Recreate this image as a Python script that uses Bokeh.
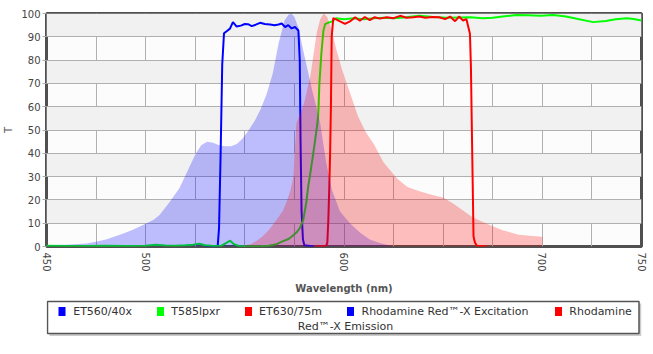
from bokeh.plotting import figure
from bokeh.layouts import column
from bokeh.models import Range1d, FixedTicker, SingleIntervalTicker
from bokeh.core.properties import value
from bokeh.embed import file_html
from bokeh.resources import INLINE

# ---------------- data ----------------
x_ticks = [450, 500, 600, 700, 750]

et560_wl = [530, 536.3, 537, 537.8, 538.6, 539.5, 541, 542.5, 544, 545.9,
            548, 550, 551.6, 553.5, 555.5, 557.7, 560, 562.7, 565, 567,
            568.6, 570.3, 571.9, 573.6, 575.3, 577, 577.7, 578.1, 578.6, 579.3,
            580, 585]
et560_t = [0, 0, 8, 40, 78, 91.5, 92.5, 93.5, 96.3, 94.4,
           94.8, 95.5, 95.4, 94.6, 95.2, 96, 95.5, 95.3, 95, 95.3,
           95.7, 94.2, 95, 93.6, 94.2, 92.7, 80, 45, 15, 3,
           0.5, 0]

t585_wl = [450, 460, 470, 480, 490, 500, 505, 510, 515, 520,
           524, 527, 530, 534, 538, 540.5, 542.6, 544.5, 547, 552,
           558, 562, 566, 569, 572, 574, 576, 577.8, 579.5, 581,
           582, 583.3, 584.5, 585.5, 586.3, 587, 587.6, 588.6, 589.6, 590.5,
           592, 593.8, 596, 600, 605, 610, 615, 620, 625, 630,
           638, 645, 652, 658, 663.6, 670, 675, 681, 687, 693,
           699, 705.5, 712, 718, 725.6, 732, 737, 742.6, 746, 750]
t585_t = [0.3, 0.2, 0.2, 0.3, 0.2, 0.3, 0.7, 0.4, 0.3, 0.5,
          0.8, 1.2, 0.5, 0.2, 0.3, 1.5, 2.5, 1.0, 0.2, 0.1,
          0.2, 0.3, 1.0, 2.2, 3.2, 4.5, 6, 8, 11.5, 19,
          26, 33, 40, 46, 51, 56, 70, 83, 92.5, 95.5,
          96, 96.5, 98, 97.5, 98, 97.5, 98, 98.2, 98, 98.3,
          99, 98.5, 98.2, 98.3, 98.4, 98, 98.2, 98.8, 99.4, 99.2,
          99, 99.4, 98.7, 97.6, 96.3, 96.8, 97.5, 98, 97.6, 97]

et630_wl = [585, 591, 591.6, 592.1, 592.6, 593, 593.4, 593.8, 594.6, 596,
            598, 600.5, 603, 605.6, 608, 610.5, 613, 615.5, 618, 621.6,
            625, 628.3, 631.5, 635, 638, 641, 644.5, 648, 651, 653.5,
            656, 658, 660, 661.7, 663.5, 664, 664.4, 665.3, 666, 667,
            672]
et630_t = [0, 0.3, 1.7, 11.5, 25.8, 40, 60, 90, 98, 97.5,
           96.6, 95.5, 96.6, 98.4, 96.9, 98.5, 97.2, 98.4, 97.8, 98.4,
           98, 99, 98.2, 98.4, 98.7, 98.2, 98.5, 98.4, 97.6, 98.7,
           96.7, 98.7, 97, 97.6, 91.3, 77, 54, 4.4, 1.7, 0.3,
           0]

exc_wl = [450, 460, 470, 475, 480, 487, 493, 500, 504, 507,
          512, 517, 522, 525, 528, 531, 534, 537, 540, 543,
          546, 549, 552, 555, 558, 561, 564, 567, 570, 572,
          573.5, 575, 577, 580, 584, 588, 591, 594, 598, 603,
          608, 613, 618, 625]
exc_t = [0.5, 0.8, 1.3, 2, 3, 5, 7, 9.8, 11.5, 13.5,
         19, 25, 34, 39.5, 43.5, 45, 44.5, 43.5, 43, 43,
         44, 46.5, 50, 54, 59, 65.5, 74, 87, 97, 99.5,
         100, 98.5, 94, 82, 67, 53, 36, 24, 15, 10,
         6, 3, 1.5, 0]

em_wl = [550, 553, 556, 559, 562, 566, 569, 571, 573, 574.5,
         575.2, 576, 578, 580, 583, 586.3, 588, 589.8, 591.5, 593.8,
         596, 599, 603, 607, 611, 615, 620, 627, 632, 638,
         645, 650, 655, 660, 665, 670, 675, 680, 688, 695,
         700, 700.1]
em_t = [0.5, 1, 2.5, 4.4, 7, 11.5, 15, 19, 24, 30,
        42, 53, 57, 62, 73, 92, 97.5, 100, 98.5, 93,
        85, 76, 66, 56, 49, 44, 36, 29, 25.5, 23.7,
        22, 21, 18.5, 15.5, 12.5, 10.5, 8.7, 7, 5, 4.5,
        4.2, 0]

series_names = ["ET560/40x", "T585lpxr", "ET630/75m",
                "Rhodamine Red\u2122-X Excitation", "Rhodamine Red\u2122-X Emission"]
series_colors = ["#0000ff", "#00ff00", "#ff0000", "#0000ff", "#ff0000"]

FONT = "DejaVu Sans"
BL, BR, BT, BB = 46, 12, 13, 49   # borders of the chart frame

# ---------------- main chart ----------------
p = figure(width=653, height=296, output_backend="svg", toolbar_location=None,
           x_range=Range1d(450, 750), y_range=Range1d(0, 100),
           min_border_left=BL, min_border_right=BR, min_border_top=BT,
           min_border_bottom=BB)
p.background_fill_color = "#fcfcfc"
p.border_fill_color = "white"
p.outline_line_color = "#505050"
p.outline_line_width = 3

# filter lines first, spectra fills on top
p.line(et560_wl, et560_t, line_color=series_colors[0], line_width=2)
p.line(t585_wl, t585_t, line_color=series_colors[1], line_width=2)
p.line(et630_wl, et630_t, line_color=series_colors[2], line_width=2)
p.varea(x=exc_wl, y1=0, y2=exc_t, fill_color=series_colors[3], fill_alpha=0.25)
p.varea(x=em_wl, y1=0, y2=em_t, fill_color=series_colors[4], fill_alpha=0.25)

p.xaxis.ticker = FixedTicker(ticks=x_ticks)
p.xgrid.ticker = SingleIntervalTicker(interval=25, num_minor_ticks=0)
p.yaxis.ticker = SingleIntervalTicker(interval=10, num_minor_ticks=0)
p.ygrid.ticker = SingleIntervalTicker(interval=10, num_minor_ticks=0)
for g in (p.xgrid, p.ygrid):
    g.grid_line_color = "#b0b0b0"
    g.grid_line_width = 1
p.ygrid.band_fill_color = "#f1f1f1"
p.ygrid.band_fill_alpha = 1.0

p.xaxis.major_label_orientation = "vertical"
p.xaxis.axis_label = "Wavelength (nm)"
p.yaxis.axis_label = "T"
for ax in (p.xaxis, p.yaxis):
    ax.axis_line_color = None
    ax.minor_tick_line_color = None
    ax.major_label_text_font = FONT
    ax.major_label_text_font_size = "10px"
    ax.major_label_text_color = "#444444"
    ax.axis_label_text_font = FONT
    ax.axis_label_text_font_size = "10px"
    ax.axis_label_text_color = "#555555"
p.xaxis.major_tick_line_color = None
p.xaxis.major_tick_out = 0
p.xaxis.major_label_standoff = 6
p.xaxis.axis_label_standoff = 8
p.xaxis.axis_label_text_font_style = "bold"
p.yaxis.major_tick_line_color = "#aaaaaa"
p.yaxis.major_tick_out = 4
p.yaxis.major_tick_in = 0
p.yaxis.major_label_standoff = 2
p.yaxis.axis_label_standoff = 4
p.yaxis.axis_label_text_font_style = "normal"

# ---------------- legend strip (frame aligned with the chart frame,
# data coordinates equal page pixels) ----------------
lg = figure(width=653, height=58, output_backend="svg", toolbar_location=None,
            x_range=Range1d(BL, 653 - BR), y_range=Range1d(58, 0),
            min_border_left=BL, min_border_right=BR, min_border_top=0,
            min_border_bottom=0, outline_line_color=None)
lg.axis.visible = False
lg.grid.visible = False
lg.background_fill_color = "white"
lg.border_fill_color = "white"

box_l, box_r, box_t, box_b = 47, 638.5, 5, 37
lg.quad(left=box_l + 2, right=box_r + 2.5, top=box_t + 2, bottom=box_b + 2.5,
        fill_color="#999999", fill_alpha=0.5, line_color=None)
lg.quad(left=box_l, right=box_r, top=box_t, bottom=box_b,
        fill_color="white", line_color="#555555", line_width=1.5)

sq_x = [61.5, 160, 248, 350, 558]
tx_x = [72.7, 170.8, 258.5, 361, 568.8]
row1 = 15
row2 = 29.5
lg.rect(x=sq_x, y=[row1] * 5, width=7, height=9, fill_color=series_colors,
        line_color=None)
labels_row1 = series_names[:4] + ["Rhodamine"]
lg.text(x=tx_x, y=[row1] * 5, text=labels_row1, text_font=value(FONT),
        text_font_size="11px", text_color="#333333", text_baseline="middle",
        text_align="left")
lg.text(x=[345], y=[row2], text=["Red\u2122-X Emission"], text_font=value(FONT),
        text_font_size="11px", text_color="#333333", text_baseline="middle",
        text_align="center")

layout = column(p, lg, spacing=0)
open("out.html", "w").write(file_html(layout, INLINE))
